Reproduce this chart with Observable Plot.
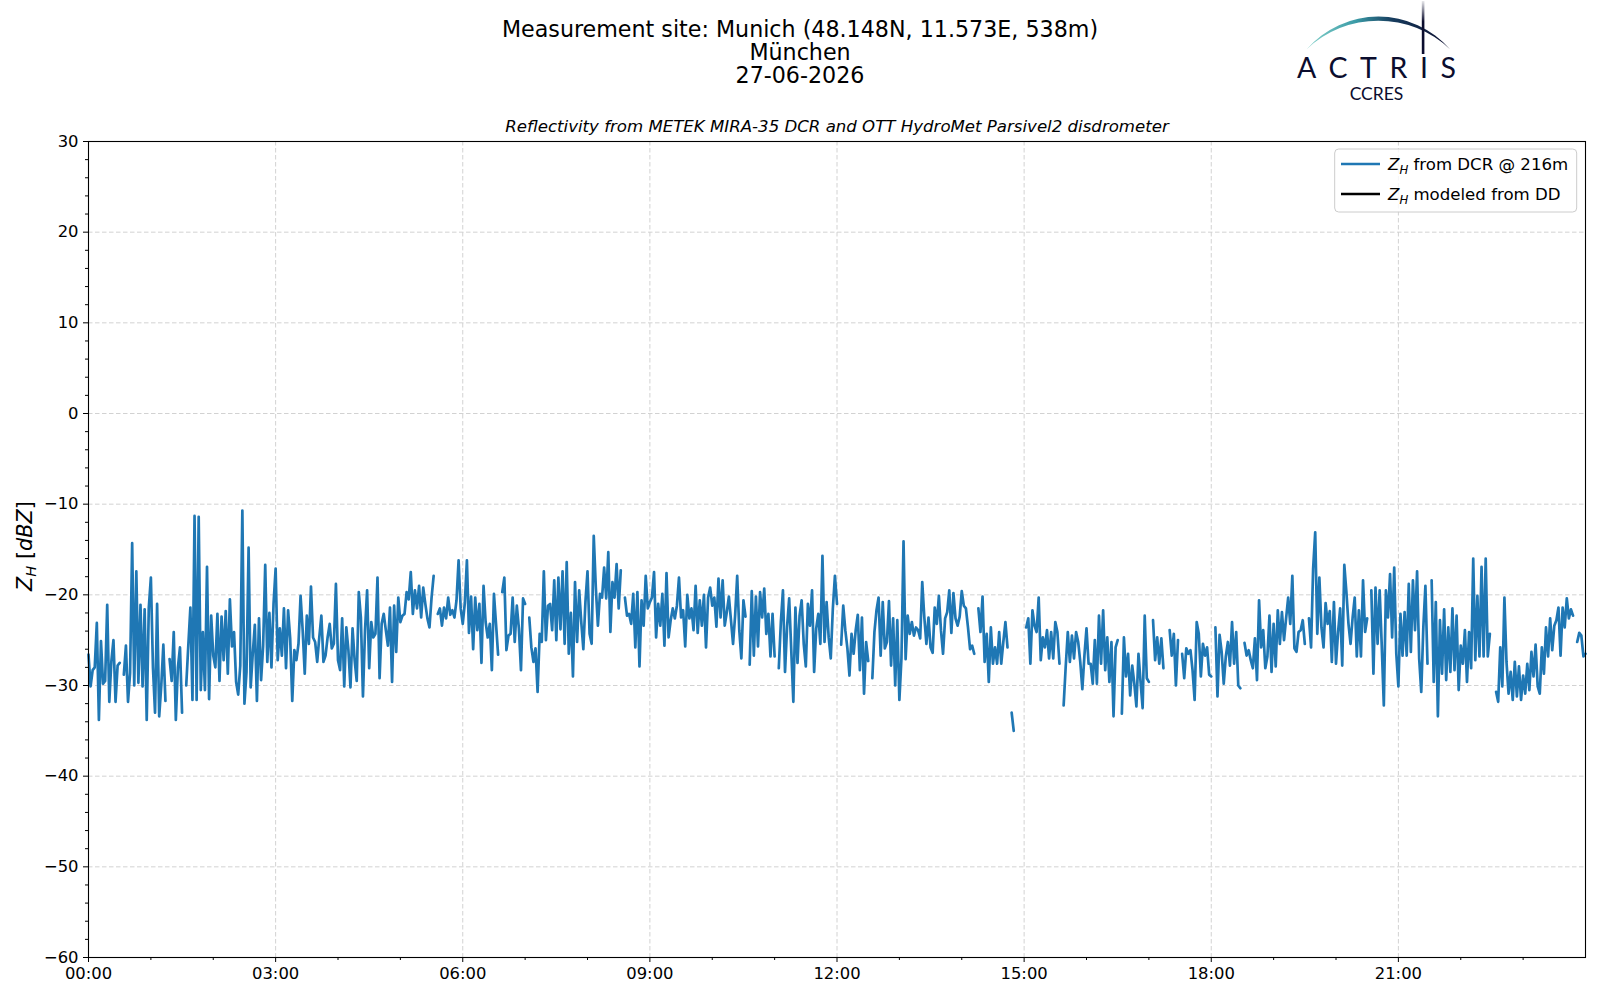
<!DOCTYPE html>
<html><head><meta charset="utf-8">
<script src="https://cdn.jsdelivr.net/npm/d3@7"></script>
<script src="https://cdn.jsdelivr.net/npm/@observablehq/plot@0.6"></script>
<style>
body{margin:0;background:#fff;}
#wrap{position:relative;width:1600px;height:1000px;font-family:"DejaVu Sans",sans-serif;overflow:hidden;}
#head{position:absolute;left:0;top:0;width:1600px;height:100px;}
.tl{position:absolute;left:0;width:1600px;text-align:center;font-size:22.2px;line-height:23px;color:#000;white-space:nowrap;}
#plot{position:absolute;left:0;top:100px;}
#over{position:absolute;left:0;top:0;pointer-events:none;}
</style></head><body><div id="wrap"><div id="head"></div><div id="plot"></div></div>
<script>
// ---- texts ----
const titleLines = ["Measurement site: Munich (48.148N, 11.573E, 538m)", "München", "27-06-2026"];
const subtitle = "Reflectivity from METEK MIRA-35 DCR and OTT HydroMet Parsivel2 disdrometer";
const legendLabels = [" from DCR @ 216m", " modeled from DD"];
const legendColors = ["#1f77b4", "#000000"];
// ---- axes ----
const dayStart = "2026-06-27T00:00:00Z";
const sampleMinutes = 2;
const xMajorHours = [0, 3, 6, 9, 12, 15, 18, 21];
const xMinorHours = [1, 2, 4, 5, 7, 8, 10, 11, 13, 14, 16, 17, 19, 20, 22, 23];
const yMajorTicks = [-60, -50, -40, -30, -20, -10, 0, 10, 20, 30];
const yMinorTicks = [-58,-56,-54,-52,-48,-46,-44,-42,-38,-36,-34,-32,-28,-26,-24,-22,-18,-16,-14,-12,-8,-6,-4,-2,2,4,6,8,12,14,16,18,22,24,26,28];
// ---- Z_H from DCR @ 216m, dBZ, one value per 2 minutes, hour by hour ----
const h00 = [-26.6,-30.1,-28.3,-28.0,-23.1,-33.8,-25.1,-29.8,-29.5,-21.1,-31.8,-27.3,-25.0,-31.8,-27.8,-27.5,null,-28.8,-25.6,-31.8,-28.6,-14.3,-30.0,-17.4,-29.7,-21.1,-30.1,-21.6,-33.8,-21.4];
const h01 = [-18.1,-28.0,-33.0,-21.0,-33.4,-30.0,-25.5,-31.7,null,-27.1,-29.5,-24.1,-33.8,-28.0,-25.8,-33.0,null,-30.0,-25.6,-21.4,-31.6,-11.3,-31.6,-11.4,-30.5,-24.1,-30.5,-16.9,-31.5,-22.3];
const h02 = [-26.7,-28.0,-22.1,-29.5,-22.4,-27.2,-21.8,-28.7,-20.5,-25.7,-24.1,-29.6,-31.0,-27.8,-10.7,-32.0,-28.5,-14.8,-30.2,-26.5,-23.3,-31.7,-22.6,-29.4,-25.6,-16.7,-27.4,-22.0,-28.0,-21.0];
const h03 = [-17.1,-27.2,-23.7,-26.7,-21.5,-28.1,-21.7,-24.8,-31.7,-26.1,-27.2,-25.4,-20.1,-23.9,-28.7,-22.3,-25.4,-19.1,-24.7,-25.2,-27.4,-24.7,-22.3,-27.4,-26.7,-24.7,-23.2,-25.9,-25.4,-18.8];
const h04 = [-27.2,-28.3,-22.6,-30.1,-23.6,-26.1,-30.2,-23.7,-27.2,-29.5,-19.7,-22.5,-31.2,-23.9,-19.5,-28.1,-23.0,-24.7,-24.3,-18.1,-29.2,-23.2,-22.1,-23.9,-25.6,-21.4,-29.6,-21.2,-26.3,-20.3];
const h05 = [-23.0,-22.3,-22.1,-19.7,-20.5,-17.5,-22.1,-19.5,-21.5,-19.0,-22.5,-19.2,-21.0,-22.6,-23.6,-20.3,-17.9,null,-22.1,-21.5,-23.4,-21.4,-22.6,-20.3,-22.2,-21.7,-22.5,-20.6,-16.2,-21.5];
const h06 = [-23.2,-20.9,-16.2,-24.2,-20.2,-26.0,-20.3,-23.9,-21.0,-27.5,-19.0,-23.0,-24.7,-23.2,-28.3,-19.9,-23.2,-26.6,null,-19.7,-18.1,-26.1,-24.5,-24.3,-20.3,-25.2,-21.2,-23.7,-28.3,-20.4];
const h07 = [-21.0,null,-22.5,-25.8,-27.4,-25.9,-30.7,-24.3,-25.2,-17.4,-25.0,-21.2,-21.0,-23.9,-18.4,-25.0,-18.1,-23.8,-17.4,-25.4,-16.4,-26.5,-22.0,-29.0,-18.6,-25.2,-19.5,-23.0,-26.0,-20.8];
const h08 = [-17.4,-24.3,-25.4,-13.5,-19.2,-23.4,-19.9,-20.3,-17.0,-20.4,-15.3,-24.1,-18.6,-20.3,-16.6,-21.5,-17.3,null,-20.3,-22.3,-22.1,-23.2,-19.9,-25.8,-19.7,-27.9,-20.6,-23.4,-17.9,-21.5];
const h09 = [-20.8,-20.3,-17.5,-24.7,-21.0,-23.4,-19.9,-25.6,-17.6,-24.7,-22.8,-21.5,-22.6,-21.2,-18.1,-22.5,-21.7,-25.7,-20.0,-22.6,-21.5,-23.9,-19.0,-24.2,-20.6,-23.4,-20.0,-25.8,-20.3,-19.2];
const h10 = [-21.2,-20.3,-23.5,-18.2,-22.5,-18.4,-23.4,-21.9,-20.2,-22.8,-25.4,-22.3,-17.9,-23.9,-27.0,-20.6,-22.4,null,-27.7,-19.6,-26.7,-20.2,-25.7,-19.7,-22.5,-19.3,-24.3,-22.1,-26.8,-22.1];
const h11 = [-26.8,null,-28.1,-23.0,-19.5,-28.5,-23.5,-20.4,-26.1,-31.8,-21.4,-27.5,-22.3,-20.6,-25.4,-27.9,-21.0,-23.4,-19.5,-28.5,-23.7,-22.1,-25.4,-15.7,-25.2,-20.8,-24.7,-27.0,-21.5,-17.9];
const h12 = [-21.0,null,-25.5,-21.2,-23.9,-25.9,-28.9,-24.3,-26.5,-23.9,-22.2,-28.3,-22.5,-30.9,-25.2,-27.3,null,-29.2,-24.1,-21.7,-20.3,-26.7,-20.8,-25.9,-25.2,-20.7,-27.8,-22.6,-30.0,-22.8];
const h13 = [-31.6,-27.0,-14.1,-27.1,-22.3,-24.3,-23.0,-24.5,-23.6,-23.9,-24.8,-18.6,-22.5,-25.4,-22.5,-25.8,-26.4,-21.4,-23.2,-20.1,-23.9,-26.5,-22.6,-21.9,-19.5,-24.2,-19.8,-22.6,-23.4,-22.4];
const h14 = [-19.6,-21.2,-21.5,-23.6,-26.0,-25.6,-26.5,null,-21.5,-24.1,-20.2,-27.4,-24.3,-29.6,-23.6,-27.6,-25.8,-27.6,-24.1,-27.6,-25.2,-23.0,-25.8,null,-33.0,-35.0,null,null,null,null];
const h15 = [null,-23.6,-22.6,-27.6,-21.7,-23.4,-24.1,-20.3,-27.2,-24.7,-25.8,-23.9,-27.0,-24.1,-27.0,-23.0,-24.1,-27.6,null,-32.2,-27.9,-24.1,-27.4,-24.5,-27.0,-24.1,-25.2,-27.4,-30.4,-26.7];
const h16 = [-23.7,-27.6,-27.6,-29.8,-25.0,-29.8,-22.3,-27.6,-21.7,-28.3,-24.7,-29.6,-25.2,-33.4,-25.8,-25.0,null,-33.1,-24.7,-29.0,-26.5,-31.1,-27.8,-29.8,-32.3,-26.5,-29.6,-32.5,-22.3,-29.2];
const h17 = [-29.6,null,-22.8,-27.2,-24.7,-27.6,-24.8,-28.1,null,null,-23.9,-26.7,-24.3,-30.0,-25.0,null,-26.5,-29.2,-25.9,-26.5,-26.1,-28.3,-31.6,-23.0,-24.3,-29.0,-25.4,-26.7,-25.8,-28.8];
const h18 = [-29.0,null,-23.6,-31.2,-24.4,-26.3,-29.8,-26.8,-25.2,-27.8,-23.0,-27.6,-24.1,-30.0,-30.3,null,-25.3,-26.7,-26.1,-27.2,-28.1,-24.8,-29.4,-20.6,-25.8,-23.9,-28.1,-26.8,-22.3,-28.5];
const h19 = [-23.2,-27.9,-21.7,-25.4,-21.9,-25.0,-22.6,-20.3,-23.2,-17.9,-25.9,-26.3,-24.1,-23.9,-22.8,-25.4,null,-22.6,-25.8,-17.1,-13.1,-24.3,-18.1,-23.6,-25.8,-20.9,-23.2,-21.8,-27.4,-20.8];
const h20 = [-27.6,-24.1,-21.5,-27.8,-16.7,-19.7,-23.2,-25.4,-22.5,-20.3,-26.8,-21.7,-26.8,-18.4,-24.1,-22.6,null,-19.5,-28.7,-19.2,-25.4,-19.5,-25.6,-32.2,-19.5,-22.5,-17.7,-24.7,-17.0,-26.5];
const h21 = [-30.1,-22.1,-26.7,-21.9,-26.7,-18.8,-26.3,-18.4,-23.9,-17.4,-27.0,-30.7,-23.6,-19.0,-27.6,null,-18.4,-29.6,-20.8,-33.4,-22.8,-28.7,-21.6,-29.4,-23.6,-28.5,-21.5,-28.3,-22.3,-30.5];
const h22 = [-25.6,-27.6,-23.9,-29.6,-24.1,-28.1,-16.0,-27.2,-20.1,-26.8,-16.9,-26.8,-16.0,-26.8,-24.3,null,null,-30.7,-31.8,-25.8,-30.1,-20.3,-27.4,-30.9,-28.5,-31.6,-27.4,-31.2,-27.9,-31.6];
const h23 = [-28.9,-30.9,-27.6,-30.5,-26.3,-29.0,-25.5,-30.1,-30.9,-25.8,-28.7,-23.6,-26.8,-22.6,-26.1,-23.4,-22.8,-21.4,-26.7,-21.4,-23.6,-20.4,-22.6,-21.6,-22.3,null,-25.2,-24.2,-24.5,-26.8];
const lastValue = [-26.5];
// ---- Z_H modeled from DD: no values on this day ----
const zhModeled = [];

const hours = [h00,h01,h02,h03,h04,h05,h06,h07,h08,h09,h10,h11,h12,h13,h14,h15,h16,h17,h18,h19,h20,h21,h22,h23,lastValue];
const t0 = new Date(dayStart).getTime();
const series = hours.flat().map((z, i) => ({time: new Date(t0 + i * sampleMinutes * 60000), z}));
const hourDate = h => new Date(t0 + h * 3600000);
const minus = d => d < 0 ? "\u2212" + Math.abs(d) : String(d);

// header
const head = document.getElementById("head");
titleLines.forEach((s, i) => {
  const d = document.createElement("div");
  d.className = "tl"; d.textContent = s; d.style.top = (17.5 + i * 23) + "px";
  head.appendChild(d);
});

const gridStyle = {stroke: "#d2d2d2", strokeOpacity: 1, strokeWidth: 1, strokeDasharray: "4.5,2.5"};
const plot = Plot.plot({
  width: 1600, height: 900,
  marginTop: 41, marginBottom: 43, marginLeft: 88, marginRight: 15,
  style: {fontFamily: "DejaVu Sans", fontSize: "16.4px", color: "#000", background: "white"},
  x: {type: "utc", domain: [hourDate(0), hourDate(24)]},
  y: {domain: [-60, 30]},
  marks: [
    Plot.gridX(xMajorHours.map(hourDate), gridStyle),
    Plot.gridY(yMajorTicks, gridStyle),
    Plot.axisX({ticks: xMinorHours.map(hourDate), tickSize: 3, tickFormat: () => "", label: null}),
    Plot.axisX({ticks: xMajorHours.map(hourDate), tickSize: 5, tickPadding: 5, tickFormat: d3.utcFormat("%H:%M"), label: null}),
    Plot.axisY({ticks: yMinorTicks, tickSize: 3, tickFormat: () => "", label: null}),
    Plot.axisY({ticks: yMajorTicks, tickSize: 5, tickPadding: 5, tickFormat: minus, label: null}),
    Plot.line(series, {x: "time", y: "z", stroke: legendColors[0], strokeWidth: 2.7, strokeLinejoin: "round"}),
    Plot.line(zhModeled, {x: "time", y: "z", stroke: legendColors[1], strokeWidth: 2.7}),
    Plot.frame({stroke: "black", strokeWidth: 1.1}),
    Plot.text([subtitle], {frameAnchor: "top", dy: -9.5, lineAnchor: "bottom", fontStyle: "italic", fontSize: 16.6, fill: "black"})
  ]
});
document.getElementById("plot").appendChild(plot);

// overlay: y label, legend, logo
const NS = "http://www.w3.org/2000/svg";
const over = document.createElementNS(NS, "svg");
over.setAttribute("id", "over"); over.setAttribute("width", 1600); over.setAttribute("height", 1000);
let html = `
<defs>
 <linearGradient id="arcg" x1="1306" y1="0" x2="1450" y2="0" gradientUnits="userSpaceOnUse">
  <stop offset="0" stop-color="#86d3cb"/><stop offset="0.35" stop-color="#3a9aa6"/>
  <stop offset="0.6" stop-color="#173c5e"/><stop offset="1" stop-color="#0b0d2e"/>
 </linearGradient>
 <linearGradient id="vg" x1="0" y1="0" x2="0" y2="54" gradientUnits="userSpaceOnUse">
  <stop offset="0" stop-color="#0b0d2e" stop-opacity="0.05"/><stop offset="0.4" stop-color="#0b0d2e" stop-opacity="1"/>
 </linearGradient>
</defs>
<path d="M1306.7,49.3 A94.8,94.8 0 0 1 1450,49.3 A104,104 0 0 0 1306.7,49.3 Z" fill="url(#arcg)"/>
<rect x="1421.8" y="1" width="2.6" height="53" fill="url(#vg)"/>
<text x="1297" y="78.3" font-family="Lato" font-size="28.5" textLength="159" lengthAdjust="spacing" fill="#0b0d2e">ACTRIS</text>
<text x="1376.5" y="99.5" font-family="Lato" font-size="17.5" text-anchor="middle" fill="#0b0d2e">CCRES</text>
<text transform="translate(31.5,546) rotate(-90)" text-anchor="middle" font-family="DejaVu Sans" font-size="20.8" fill="#000"><tspan font-style="italic">Z</tspan><tspan font-style="italic" font-size="14.6" dy="4">H</tspan><tspan dy="-4"> [</tspan><tspan font-style="italic">dBZ</tspan><tspan>]</tspan></text>
<rect x="1334.7" y="149" width="242" height="63" rx="4" fill="white" fill-opacity="0.8" stroke="#cccccc" stroke-width="1"/>`;
legendLabels.forEach((lab, i) => {
  const y = 164 + i * 30;
  html += `<line x1="1341" x2="1380" y1="${y}" y2="${y}" stroke="${legendColors[i]}" stroke-width="2.7"/>`;
  html += `<text x="1388" y="${y + 6}" font-family="DejaVu Sans" font-size="16.6" fill="#000"><tspan font-style="italic">Z</tspan><tspan font-style="italic" font-size="11.7" dy="3.5">H</tspan><tspan dy="-3.5">${lab}</tspan></text>`;
});
over.innerHTML = html;
document.getElementById("wrap").appendChild(over);
</script>
</body></html>
